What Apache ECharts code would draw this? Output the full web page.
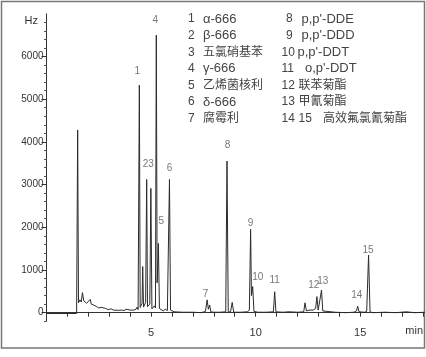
<!DOCTYPE html>
<html><head><meta charset="utf-8">
<script src="https://cdn.jsdelivr.net/npm/echarts@6/dist/echarts.min.js"></script>
<style>html,body{margin:0;padding:0;background:#fff}#c{width:426px;height:357px}</style>
</head><body><div id="c"></div>
<script>
// Chromatogram trace: [time (min), signal (Hz)]
const trace = [
 [0,-20],[1.44,-20],[1.49,4280],[1.53,230],[1.6,300],[1.66,250],[1.72,470],[1.78,280],[1.85,300],[1.92,220],
 [2.0,250],[2.09,310],[2.14,200],[2.25,180],[2.4,140],[2.5,110],[2.61,125],[2.7,90],[2.82,100],[2.95,70],
 [3.09,90],[3.2,60],[3.29,75],[3.45,55],[3.6,60],[3.7,50],[3.81,80],[3.9,55],[4.0,60],[4.09,90],[4.18,60],
 [4.28,80],[4.33,130],[4.38,70],[4.41,80],[4.44,5330],[4.48,120],[4.53,90],[4.57,220],[4.60,1080],[4.64,130],
 [4.69,100],[4.74,240],[4.79,3120],[4.83,140],[4.89,110],[4.94,200],[4.99,2910],[5.04,90],[5.1,60],[5.16,160],
 [5.21,110],[5.25,6500],[5.29,700],[5.35,1620],[5.40,100],[5.48,60],[5.58,40],[5.68,80],[5.78,50],[5.84,60],
 [5.88,3120],[5.93,60],[6.1,20],[6.5,10],[7.0,10],[7.4,0],[7.6,30],[7.68,300],[7.74,80],[7.8,180],[7.86,20],
 [8.0,10],[8.3,10],[8.57,20],[8.63,3550],[8.69,20],[8.8,20],[8.88,240],[8.95,10],[9.3,10],[9.6,20],[9.7,60],
 [9.76,1950],[9.8,400],[9.86,610],[9.92,30],[10.1,10],[10.5,10],[10.85,20],[10.91,490],[10.97,20],[11.3,10],
 [11.6,20],[12.0,10],[12.3,20],[12.36,230],[12.43,40],[12.55,60],[12.62,40],[12.75,60],[12.87,100],[12.93,375],
 [12.99,60],[13.08,80],[13.15,530],[13.21,40],[13.3,10],[13.8,10],[14.3,0],[14.7,10],[14.82,40],[14.88,150],
 [14.94,20],[15.2,10],[15.31,30],[15.40,1350],[15.47,20],[15.6,0],[16.2,10],[16.7,0],[17.2,20],[17.6,0],[18.1,10]
];
// Peak number labels: [time, signal, text]
const peakLabels = [
 [4.34,5660,'1'],[5.2,6855,'4'],[4.87,3480,'23'],[5.88,3390,'6'],[5.49,2140,'5'],[7.6,440,'7'],
 [8.66,3930,'8'],[9.76,2100,'9'],[10.1,840,'10'],[10.91,770,'11'],[12.78,650,'12'],[13.21,740,'13'],
 [14.84,415,'14'],[15.37,1470,'15']
];
// Legend (compound list)
const legendLeft = [['1','α-666'],['2','β-666'],['3','五氯硝基苯'],['4','γ-666'],['5','乙烯菌核利'],['6','δ-666'],['7','腐霉利']];
const legendRight = [['8','p,p\'-DDE'],['9','p,p\'-DDD'],['10','p,p\'-DDT'],['11','o,p\'-DDT'],['12','联苯菊酯'],['13','甲氰菊酯'],['14 15','高效氟氯氰菊酯']];
// Axis ticks
const xTickLabels = [5,10,15];
const xMinorTicks = [1,2,3,4,5,6,7,8,9,10,11,12,13,14,15,16,17,18];
const yTickLabels = [0,1000,2000,3000,4000,5000,6000];
const yMinorTicks = [-200,200,400,600,800,1200,1400,1600,1800,2200,2400,2600,2800,3200,3400,3600,3800,4200,4400,4600,4800,5200,5400,5600,5800,6200,6400,6600,6800];

const FONT = 'Liberation Sans, Arial, Noto Sans CJK SC, sans-serif';
const chart = echarts.init(document.getElementById('c'), null, {renderer:'canvas'});

const graphics = [
  {type:'rect', shape:{x:1.5,y:1.5,width:423,height:346.5}, style:{fill:'none',stroke:'#777',lineWidth:1.5}, z:-1},
  {type:'text', x:38, y:21, style:{text:'Hz', font:'11px '+FONT, fill:'#333', textAlign:'right', textVerticalAlign:'middle'}},
  {type:'text', x:423, y:331, style:{text:'min', font:'11px '+FONT, fill:'#333', textAlign:'right', textVerticalAlign:'middle'}}
];
const rowY = i => 19 + i*16.6;
const NF = '12px '+FONT;
const isCJK = s => /[\u4e00-\u9fff]/.test(s);
const nameFont = s => (isCJK(s) ? '12px ' : '13px ') + FONT;
legendLeft.forEach((r,i)=>{
  graphics.push({type:'text', x:188, y:rowY(i), style:{text:r[0], font:NF, fill:'#444', textVerticalAlign:'middle'}});
  graphics.push({type:'text', x:203, y:rowY(i), style:{text:r[1], font:nameFont(r[1]), fill:'#444', textVerticalAlign:'middle'}});
});
const rightNameX = [301.5,301.5,297.5,305,298.5,298.5,323];
legendRight.forEach((r,i)=>{
  const nx = r[0].length===1 ? 286 : 281.5;
  if (r[0].indexOf(' ')>0){
    const parts=r[0].split(' ');
    graphics.push({type:'text', x:281.5, y:rowY(i), style:{text:parts[0], font:NF, fill:'#444', textVerticalAlign:'middle'}});
    graphics.push({type:'text', x:298.5, y:rowY(i), style:{text:parts[1], font:NF, fill:'#444', textVerticalAlign:'middle'}});
  } else {
    graphics.push({type:'text', x:nx, y:rowY(i), style:{text:r[0], font:NF, fill:'#444', textVerticalAlign:'middle'}});
  }
  graphics.push({type:'text', x:rightNameX[i], y:rowY(i), style:{text:r[1], font:nameFont(r[1]), fill:'#444', textVerticalAlign:'middle'}});
});

chart.setOption({
  animation:false,
  backgroundColor:'#fff',
  grid:{left:46.5, right:2, top:13.8, bottom:35.8, containLabel:false},
  xAxis:{type:'value', min:0, max:18.05, interval:1,
    axisLine:{lineStyle:{color:'#333',width:1}},
    axisTick:{show:true, length:4, customValues:xMinorTicks, lineStyle:{color:'#333'}},
    axisLabel:{customValues:xTickLabels, formatter:v=>String(v), fontSize:11, color:'#333', fontFamily:FONT, margin:6},
    splitLine:{show:false}},
  yAxis:[
    {type:'value', min:-200, max:7000,
     axisLine:{show:true, lineStyle:{color:'#333',width:1}},
     axisTick:{show:true, length:5, customValues:yTickLabels, lineStyle:{color:'#333'}},
     axisLabel:{customValues:yTickLabels, formatter:v=>String(v), fontSize:10, color:'#333', fontFamily:FONT, margin:3},
     splitLine:{show:false}},
    {type:'value', min:-200, max:7000, position:'left',
     axisLine:{show:false},
     axisTick:{show:true, length:2.5, customValues:yMinorTicks, lineStyle:{color:'#555'}},
     axisLabel:{show:false}, splitLine:{show:false}}
  ],
  graphic:graphics,
  series:[
    {type:'line', data:trace, showSymbol:false, symbol:'none', lineStyle:{color:'#2b2b2b', width:1}, z:3},
    {type:'scatter', data:peakLabels, symbolSize:0, z:4,
     label:{show:true, position:'inside', formatter:p=>p.data[2], fontSize:10, color:'#555', fontFamily:FONT}}
  ]
});
</script></body></html>
